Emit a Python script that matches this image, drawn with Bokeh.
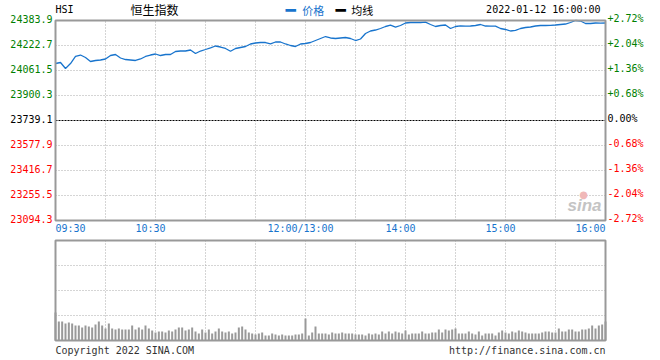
from bokeh.plotting import figure
from bokeh.models import Range1d
from bokeh.core.properties import value
from bokeh.embed import file_html
from bokeh.resources import INLINE

# ---------------- data ----------------
prev_close = 23739.1
price_minutes = list(range(0, 331, 3))          # trading minutes from 09:30 (lunch removed)
price = [
    24106.6, 24113.1, 24074.4, 24106.6, 24151.8, 24161.4, 24145.3, 24119.5, 24126.0, 24129.2,
    24135.7, 24158.2, 24164.7, 24142.1, 24132.4, 24129.2, 24126.0, 24135.7, 24151.8, 24161.4,
    24167.9, 24158.2, 24164.7, 24164.7, 24184.0, 24187.2, 24187.2, 24193.7, 24171.1, 24187.2,
    24196.9, 24207.9, 24219.5, 24213.0, 24203.4, 24185.9, 24203.4, 24209.8, 24216.3, 24232.4,
    24238.8, 24242.0, 24242.0, 24233.7, 24245.3, 24245.3, 24232.4, 24222.7, 24216.3, 24232.4,
    24235.6, 24242.0, 24254.9, 24267.8, 24280.7, 24271.1, 24267.8, 24271.1, 24274.3, 24267.8,
    24254.9, 24264.6, 24300.1, 24316.2, 24322.6, 24332.3, 24345.2, 24353.6, 24340.7, 24351.7,
    24367.8, 24371.0, 24371.0, 24371.0, 24372.9, 24358.1, 24345.2, 24351.7, 24354.9, 24332.3,
    24345.2, 24349.7, 24347.1, 24348.4, 24351.7, 24358.1, 24348.4, 24347.1, 24347.1, 24332.3,
    24325.9, 24316.2, 24320.7, 24332.3, 24338.8, 24342.0, 24348.4, 24351.7, 24351.7, 24352.9,
    24354.9, 24358.1, 24361.3, 24371.0, 24383.9, 24380.7, 24364.6, 24364.6, 24367.8, 24366.5,
    24367.8,
]

vol_minutes = list(range(0, 331, 2))
volume = [
    28, 19, 19, 17, 18, 17, 15, 15, 13, 15, 14, 13, 16, 19, 15, 12, 17, 12, 11, 12,
    11, 11, 11, 15, 11, 13, 11, 15, 12, 10, 8, 9, 9, 8, 10, 9, 11, 13, 13, 10,
    11, 13, 9, 7, 11, 8, 11, 7, 9, 12, 9, 8, 9, 7, 8, 13, 14, 11, 8, 7,
    6, 7, 8, 5, 5, 7, 6, 5, 6, 5, 5, 5, 6, 6, 7,
    22,
    5, 8, 14, 7, 7, 7, 6,
    8, 7, 7, 8, 7, 7, 7, 6, 6, 6, 5, 7, 6, 7, 6, 9, 7, 9, 7, 9, 8, 7, 10,
    6, 7, 7, 7, 9, 7, 7, 8, 8, 11, 8, 11, 10, 11, 12, 7, 7, 7, 9, 7, 6, 9, 5,
    7, 7, 7, 5, 8, 10, 8, 7, 9, 8, 10, 9, 8, 7, 7, 7, 7, 8, 9, 9, 8, 8, 12,
    9, 9, 11, 11, 9, 9, 11, 11, 12, 15, 12, 15, 16, 19,
]
vol_grid = [25, 50, 75]
vol_max = 100

y_ticks = [24383.9, 24222.7, 24061.5, 23900.3, 23739.1, 23577.9, 23416.7, 23255.5, 23094.3]
y_labels = ["24383.9", "24222.7", "24061.5", "23900.3", "23739.1",
            "23577.9", "23416.7", "23255.5", "23094.3"]
pct_labels = ["+2.72%", "+2.04%", "+1.36%", "+0.68%", "0.00%",
              "-0.68%", "-1.36%", "-2.04%", "-2.72%"]
label_colors = ["#008000"] * 4 + ["#000000"] + ["#FF0000"] * 4

grid_minutes = [30, 60, 90, 120, 150, 180, 210, 240, 270, 300]
time_ticks_mid = [60, 150, 210, 270]
time_labels_mid = ["10:30", "12:00/13:00", "14:00", "15:00"]
time_first, time_last = "09:30", "16:00"

symbol = "HSI"
name = "恒生指数"
stamp = "2022-01-12 16:00:00"
legend_items = ["价格", "均线"]
copyright_text = "Copyright 2022 SINA.COM"
url_text = "http://finance.sina.com.cn"

# ---------------- layout constants (pixels) ----------------
W, H = 656, 356
FL, FR = 55, 605            # plot frame left / right
PT, PB = 20, 220            # price panel top / bottom
VT, VB = 240, 340           # volume panel top / bottom

BLUE = "#1874CD"
GRID = "#aaaaaa"
BORDER = "#999999"
MONO = value("DejaVu Sans Mono")
CJK = value("Noto Sans CJK SC")

X0, X1 = 0, 330
Y0, Y1 = y_ticks[-1], y_ticks[0]
xpp = (X1 - X0) / (FR - FL)          # minutes per pixel
ypp = (Y1 - Y0) / (PB - PT)          # price per pixel
vpp = vol_max / (VB - VT)            # volume per pixel

p = figure(width=W, height=H,
           x_range=Range1d(X0 - FL * xpp, X1 + (W - FR) * xpp),
           y_range=Range1d(Y0 - (H - PB) * ypp, Y1 + PT * ypp),
           x_axis_type=None, y_axis_type=None, toolbar_location=None,
           output_backend="svg", min_border=0)
p.extra_y_ranges = {"vol": Range1d(0 - (H - VB) * vpp, vol_max + VT * vpp)}
p.outline_line_color = None
p.border_fill_color = "white"
p.background_fill_color = "white"
p.grid.visible = False

# ---------- price panel ----------
p.segment(x0=grid_minutes, x1=grid_minutes, y0=[Y0] * len(grid_minutes), y1=[Y1] * len(grid_minutes),
          line_color=GRID, line_dash="1 2", line_width=1)
hg = [t for t in y_ticks[1:-1] if t != prev_close]
p.segment(x0=[X0] * len(hg), x1=[X1] * len(hg), y0=hg, y1=hg,
          line_color=GRID, line_dash="1 2", line_width=1)
p.segment(x0=[X0], x1=[X1], y0=[prev_close], y1=[prev_close],
          line_color="black", line_dash="2 1", line_width=1)

# sina watermark
p.text(x=[X1], y=[Y0], text=["sina"], x_offset=-4, y_offset=-6, text_align="right",
       text_baseline="bottom", text_font=value("Liberation Sans"), text_font_size="17px",
       text_font_style="bold italic", text_color="#c4c4c4")
p.text(x=[X1], y=[Y0], text=["●"], x_offset=-22, y_offset=-21, text_align="center",
       text_baseline="bottom", text_font=value("DejaVu Sans"), text_font_size="10px",
       text_color="#f0b8b8")

p.line(price_minutes, price, line_color=BLUE, line_width=1.3)

p.quad(left=[X0], right=[X1], bottom=[Y0], top=[Y1], fill_color=None,
       line_color=BORDER, line_width=2)

# axis labels
n = len(y_ticks)
p.text(x=[X0] * n, y=y_ticks, text=y_labels, text_color=label_colors, text_align="right",
       text_baseline="middle", x_offset=-3, y_offset=-2, text_font=MONO, text_font_size="10px")
p.text(x=[X1] * n, y=y_ticks, text=pct_labels, text_color=label_colors, text_align="left",
       text_baseline="middle", x_offset=2, y_offset=-2, text_font=MONO, text_font_size="10px")

tl = dict(text_font=MONO, text_font_size="10px", text_baseline="middle", text_color=BLUE, y_offset=8)
p.text(x=[X0], y=[Y0], text=[time_first], text_align="left", **tl)
p.text(x=[X1], y=[Y0], text=[time_last], text_align="right", **tl)
p.text(x=time_ticks_mid, y=[Y0] * len(time_ticks_mid), text=time_labels_mid,
       text_align="center", x_offset=-5, **tl)

# header
hd = dict(y=[Y1], y_offset=-11, text_baseline="middle")
p.text(x=[X0], text=[symbol], text_align="left", text_font=MONO, text_font_size="10px",
       text_color="black", **hd)
p.text(x=[45], text=[name], text_align="left", text_font=CJK, text_font_size="12px",
       text_color="black", **hd)
p.text(x=[138], text=["━"], text_align="left", text_font=MONO, text_font_size="17px",
       text_color=BLUE, **hd)
p.text(x=[148], text=[legend_items[0]], text_align="left", text_font=CJK,
       text_font_size="11px", text_color=BLUE, **hd)
p.text(x=[168], text=["━"], text_align="left", text_font=MONO, text_font_size="17px",
       text_color="black", **hd)
p.text(x=[177.5], text=[legend_items[1]], text_align="left", text_font=CJK,
       text_font_size="11px", text_color="black", **hd)
p.text(x=[327], text=[stamp], text_align="right", text_font=MONO, text_font_size="10px",
       text_color="black", **hd)

# ---------- volume panel ----------
p.segment(x0=grid_minutes, x1=grid_minutes, y0=[0] * len(grid_minutes),
          y1=[vol_max] * len(grid_minutes), line_color=GRID, line_dash="1 2",
          line_width=1, y_range_name="vol")
p.segment(x0=[X0] * len(vol_grid), x1=[X1] * len(vol_grid), y0=vol_grid, y1=vol_grid,
          line_color=GRID, line_dash="1 2", line_width=1, y_range_name="vol")
p.vbar(x=vol_minutes, top=volume, bottom=0, width=1.2, fill_color="#999999",
       line_color=None, y_range_name="vol")
p.quad(left=[X0], right=[X1], bottom=[0], top=[vol_max], fill_color=None,
       line_color=BORDER, line_width=2, y_range_name="vol")

ft = dict(y=[0], y_offset=10, text_font=MONO, text_font_size="10px",
          text_baseline="middle", text_color="#333333", y_range_name="vol")
p.text(x=[X0], text=[copyright_text], text_align="left", **ft)
p.text(x=[X1], text=[url_text], text_align="right", **ft)

open("out.html", "w").write(file_html(p, INLINE))
